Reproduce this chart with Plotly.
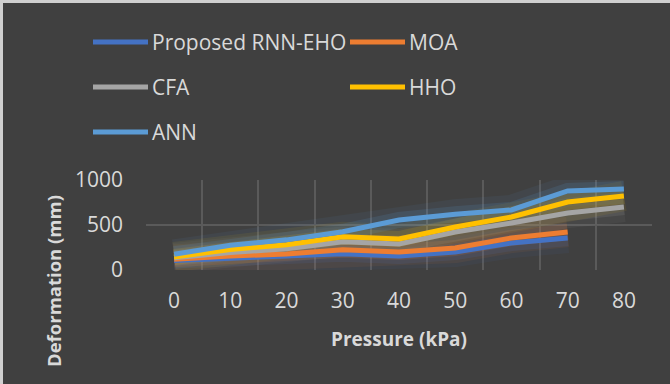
import plotly.graph_objects as go

pressure = ["0", "10", "20", "30", "40", "50", "60", "70", "80"]
rnn_eho = [105, 133, 150, 180, 156, 200, 300, 356]
moa = [120, 156, 178, 225, 200, 244, 356, 422]
cfa = [135, 195, 235, 315, 289, 422, 522, 633, 700]
hho = [145, 228, 280, 370, 344, 478, 589, 756, 822]
ann = [175, 275, 335, 425, 556, 620, 667, 878, 900]
y_ticks = [0, 500, 1000]

names = ["Proposed RNN-EHO", "MOA", "CFA", "HHO", "ANN"]
series = [rnn_eho, moa, cfa, hho, ann]
colors = ["#4472C4", "#ED7D31", "#A5A5A5", "#FFC000", "#5B9BD5"]

W, H = 670, 384
L, R, T, B = 146, 18, 180, 114
PW, PH = W - L - R, H - T - B


def px(x):
    return (x - L) / PW


def py(y):
    return (H - B - y) / PH


BG = "#404040"
TXT = "#D9D9D9"
FONT = "Open Sans"

fig = go.Figure()

# glow layers
for vals, c in zip(series, colors):
    for w, op in [(30, 0.07), (16, 0.14)]:
        fig.add_trace(go.Scatter(
            x=pressure[:len(vals)], y=vals, mode="lines",
            line=dict(color=c, width=w), opacity=op,
            showlegend=False, hoverinfo="skip"))

for name, vals, c in zip(names, series, colors):
    fig.add_trace(go.Scatter(
        x=pressure[:len(vals)], y=vals, mode="lines", name=name,
        line=dict(color=c, width=5), showlegend=False))

# manual legend (2 columns)
shapes = []
annotations = []
col_x = [93, 350]
row_y = [42, 87, 132]
for i, (name, c) in enumerate(zip(names, colors)):
    col = i % 2
    row = i // 2
    x0 = col_x[col]
    yy = row_y[row]
    shapes.append(dict(type="line", xref="paper", yref="paper",
                       x0=px(x0), x1=px(x0 + 55), y0=py(yy), y1=py(yy),
                       line=dict(color=c, width=5)))
    annotations.append(dict(text=name, xref="paper", yref="paper",
                            x=px(x0 + 57), y=py(yy), xanchor="left", yanchor="middle",
                            showarrow=False, font=dict(family=FONT, size=21, color=TXT)))

# axis titles
annotations.append(dict(text="<b>Pressure (kPa)</b>", xref="paper", yref="paper",
                        x=px(399), y=py(339), xanchor="center", yanchor="middle",
                        showarrow=False, font=dict(family=FONT, size=19, color=TXT)))
annotations.append(dict(text="<b>Deformation (mm)</b>", xref="paper", yref="paper",
                        x=px(53), y=py(281), xanchor="center", yanchor="middle",
                        textangle=-90, showarrow=False,
                        font=dict(family=FONT, size=18.5, color=TXT)))

# outer frame (top and left edges)
shapes.append(dict(type="line", xref="paper", yref="paper",
                   x0=px(0), x1=px(W), y0=py(1.5), y1=py(1.5),
                   line=dict(color="#D0D0D0", width=3)))
shapes.append(dict(type="line", xref="paper", yref="paper",
                   x0=px(1.5), x1=px(1.5), y0=py(0), y1=py(H),
                   line=dict(color="#D0D0D0", width=3)))

fig.update_layout(
    width=W, height=H,
    margin=dict(l=L, r=R, t=T, b=B),
    paper_bgcolor=BG, plot_bgcolor=BG,
    font=dict(family=FONT, color=TXT),
    shapes=shapes, annotations=annotations,
    showlegend=False,
)
fig.update_xaxes(type="category", categoryorder="array", categoryarray=pressure,
                 range=[-0.5, len(pressure) - 0.5],
                 tickson="boundaries", showgrid=True, gridcolor="#5A5A5A", gridwidth=1.5,
                 ticks="", showline=False, zeroline=False,
                 tickfont=dict(family=FONT, size=21, color=TXT),
                 ticklabelstandoff=16)
fig.update_yaxes(range=[0, 1000], tickvals=y_ticks,
                 showgrid=True, gridcolor="#5A5A5A", gridwidth=1.5,
                 zeroline=False, showline=False, ticks="",
                 tickfont=dict(family=FONT, size=21, color=TXT),
                 ticklabelstandoff=22)

fig.write_html(
    "out.html",
    config={"displayModeBar": False},
    post_script="document.body.style.margin='0';document.body.style.background='#404040';",
)
